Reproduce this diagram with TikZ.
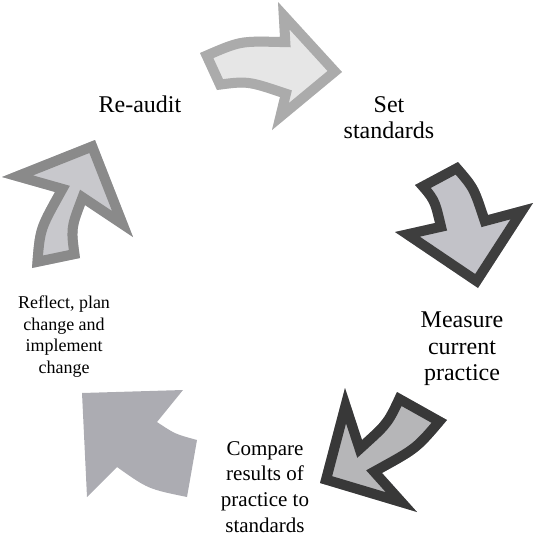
\documentclass[tikz,border=0pt]{standalone}
\usepackage{fontspec}
\setmainfont{Liberation Serif}
\definecolor{topB}{HTML}{ABABAB}
\definecolor{topI}{HTML}{E6E6E6}
\definecolor{rgtB}{HTML}{3E3E3E}
\definecolor{rgtI}{HTML}{C2C2C8}
\definecolor{brB}{HTML}{383838}
\definecolor{brI}{HTML}{B6B6B8}
\definecolor{blF}{HTML}{ACACB2}
\definecolor{lftB}{HTML}{8A8A8A}
\definecolor{lftI}{HTML}{C8C8CC}
\tikzset{
  lbl/.style={align=center, inner sep=0pt, anchor=north},
  bigtxt/.style={lbl, font=\fontsize{24}{26.5}\selectfont},
  midtxt/.style={lbl, font=\fontsize{21}{25.7}\selectfont},
  smalltxt/.style={lbl, font=\fontsize{18}{21.5}\selectfont},
  pathTop/.style={insert path={(200,53) .. controls (239,36) .. (280,37) -- (278,2) -- (342,72) -- (272,130) -- (280,97) .. controls (247,86) .. (217,90) -- cycle}},
  pathRgt/.style={insert path={(415,185) -- (458,162) .. controls (478,185) .. (488,215) -- (533,203) -- (478,288) -- (395,232) -- (435,223) .. controls (430,202) .. cycle}},
  pathBR/.style={insert path={(345,388) -- (362,440) .. controls (384,420) .. (397,392) -- (447,420) .. controls (420,452) .. (382,473) -- (417,512) -- (320,483) -- cycle}},
  pathBL/.style={insert path={(82,393) -- (183,390) -- (157,422) .. controls (175,434) .. (197,440) -- (187,497) .. controls (148,489) .. (117,467) -- (87,497) -- cycle}},
  pathLft/.style={insert path={(95,140) -- (133,237) -- (85,205) .. controls (76,229) .. (80,258) -- (32,268) .. controls (35,228) .. (55,192) -- (2,177) -- cycle}},
}
\newcommand{\bordarrow}[3]{%
  \fill[#3, #1];
  \begin{scope}
    \clip[#1];
    \draw[#2, line width=20pt, line join=miter, #1];
  \end{scope}}
\begin{document}
\begin{tikzpicture}[x=1pt, y=-1pt]
  \useasboundingbox (0,0) rectangle (534,539);
  \bordarrow{pathTop}{topB}{topI}
  \bordarrow{pathRgt}{rgtB}{rgtI}
  \bordarrow{pathBR}{brB}{brI}
  \fill[blF, pathBL];
  \bordarrow{pathLft}{lftB}{lftI}
  \node[bigtxt, anchor=base] (reaudit) at (140,112) {Re-audit};
  \node[bigtxt] (setstd) at (389,96) {Set\\standards};
  \node[bigtxt] (measure) at (462,312) {Measure\\current\\practice};
  \node[midtxt] (compare) at (265,441) {Compare\\results of\\practice to\\standards};
  \node[smalltxt] (reflect) at (64,296) {Reflect, plan\\change and\\implement\\change};
\end{tikzpicture}
\end{document}
